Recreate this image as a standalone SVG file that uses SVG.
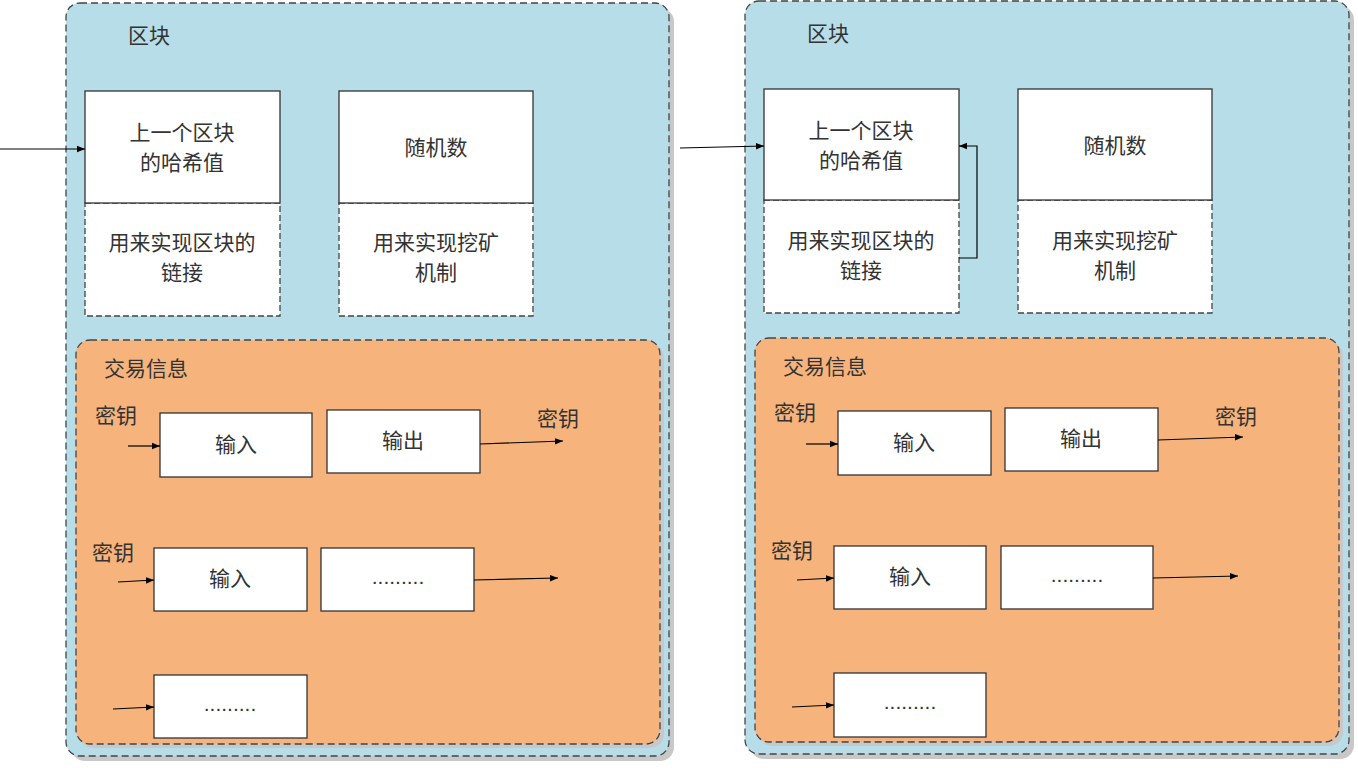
<svg xmlns="http://www.w3.org/2000/svg" width="1358" height="768" viewBox="0 0 1358 768">
<defs>
<marker id="ah" viewBox="0 0 10 10" refX="10" refY="5" markerWidth="8" markerHeight="8" markerUnits="userSpaceOnUse" orient="auto"><path d="M0,1 L10,5 L0,9 z" fill="#000"/></marker>
<style>
.blk{fill:#b7dde8;stroke:#444;stroke-width:1.3;stroke-dasharray:7,4}
.sh{fill:#c8c8c8}
.tx{fill:#f6b47c;stroke:#444;stroke-width:1.3;stroke-dasharray:7,4}
.bx{fill:#fff;stroke:#333;stroke-width:1.3}
.dbx{fill:#fff;stroke:#444;stroke-width:1.3;stroke-dasharray:6,3}
text{font-family:"Liberation Sans","Noto Sans CJK SC",sans-serif;font-size:21px;fill:#333}
.c{text-anchor:middle}
.ln{stroke:#000;stroke-width:1.2;fill:none;marker-end:url(#ah)}
</style>
</defs>
<g id="block1">
<rect class="sh" x="71" y="8" width="603" height="753" rx="14"/>
<rect class="blk" x="66" y="3" width="603" height="753" rx="14"/>
<text x="128" y="43">区块</text>
</g>
<g id="prevhash1">
<rect class="dbx" x="85" y="203" width="195" height="113"/>
<rect class="bx" x="85" y="91" width="195" height="112"/>
<text class="c" x="182" y="140">上一个区块</text>
<text class="c" x="182" y="170">的哈希值</text>
<text class="c" x="182" y="250">用来实现区块的</text>
<text class="c" x="182" y="280">链接</text>
</g>
<g id="nonce1">
<rect class="dbx" x="339" y="203" width="194" height="113"/>
<rect class="bx" x="339" y="91" width="194" height="112"/>
<text class="c" x="436" y="155">随机数</text>
<text class="c" x="436" y="250">用来实现挖矿</text>
<text class="c" x="436" y="280">机制</text>
</g>
<g id="tx1">
<rect class="sh" x="80" y="344" width="584" height="404" rx="14"/>
<rect class="tx" x="76" y="340" width="584" height="404" rx="14"/>
<text x="104" y="376">交易信息</text>
<text x="95" y="423">密钥</text>
<text x="537" y="426">密钥</text>
<text x="92" y="560">密钥</text>
</g>
<g id="in1a"><rect class="bx" x="160" y="413" width="152" height="64"/><text class="c" x="236" y="452">输入</text></g>
<g id="out1a"><rect class="bx" x="327" y="410" width="153" height="63"/><text class="c" x="403" y="448">输出</text></g>
<g id="in1b"><rect class="bx" x="154" y="548" width="153" height="63"/><text class="c" x="230" y="586">输入</text></g>
<g id="dots1b"><rect class="bx" x="321" y="548" width="153" height="63"/><text class="c" x="398" y="584">.........</text></g>
<g id="dots1c"><rect class="bx" x="154" y="675" width="153" height="63"/><text class="c" x="230" y="711">.........</text></g>

<g id="block2">
<rect class="sh" x="750" y="6" width="604" height="753" rx="14"/>
<rect class="blk" x="745" y="1" width="604" height="753" rx="14"/>
<text x="807" y="41">区块</text>
</g>
<g id="prevhash2">
<rect class="dbx" x="764" y="200" width="195" height="113"/>
<rect class="bx" x="764" y="89" width="195" height="111"/>
<text class="c" x="861" y="138">上一个区块</text>
<text class="c" x="861" y="168">的哈希值</text>
<text class="c" x="861" y="248">用来实现区块的</text>
<text class="c" x="861" y="278">链接</text>
</g>
<g id="nonce2">
<rect class="dbx" x="1018" y="200" width="194" height="113"/>
<rect class="bx" x="1018" y="89" width="194" height="111"/>
<text class="c" x="1115" y="153">随机数</text>
<text class="c" x="1115" y="248">用来实现挖矿</text>
<text class="c" x="1115" y="278">机制</text>
</g>
<g id="tx2">
<rect class="sh" x="759" y="342" width="584" height="404" rx="14"/>
<rect class="tx" x="755" y="338" width="584" height="404" rx="14"/>
<text x="783" y="374">交易信息</text>
<text x="774" y="420">密钥</text>
<text x="1215" y="424">密钥</text>
<text x="771" y="558">密钥</text>
</g>
<g id="in2a"><rect class="bx" x="838" y="411" width="153" height="64"/><text class="c" x="914" y="450">输入</text></g>
<g id="out2a"><rect class="bx" x="1005" y="408" width="153" height="63"/><text class="c" x="1081" y="446">输出</text></g>
<g id="in2b"><rect class="bx" x="834" y="546" width="152" height="63"/><text class="c" x="910" y="584">输入</text></g>
<g id="dots2b"><rect class="bx" x="1001" y="546" width="152" height="63"/><text class="c" x="1077" y="582">.........</text></g>
<g id="dots2c"><rect class="bx" x="834" y="673" width="152" height="64"/><text class="c" x="910" y="709">.........</text></g>

<g id="connectors">
<line class="ln" x1="0" y1="149" x2="85" y2="149"/>
<line class="ln" x1="680" y1="148" x2="764" y2="146"/>
<path class="ln" d="M959,258 H977 V146 H959"/>
<line class="ln" x1="128" y1="446" x2="160" y2="446"/>
<line class="ln" x1="480" y1="444" x2="563" y2="441"/>
<line class="ln" x1="118" y1="582" x2="154" y2="580"/>
<line class="ln" x1="474" y1="580" x2="558" y2="578"/>
<line class="ln" x1="113" y1="709" x2="154" y2="707"/>
<line class="ln" x1="806" y1="444" x2="838" y2="444"/>
<line class="ln" x1="1158" y1="440" x2="1243" y2="437"/>
<line class="ln" x1="797" y1="580" x2="834" y2="578"/>
<line class="ln" x1="1153" y1="578" x2="1238" y2="576"/>
<line class="ln" x1="792" y1="707" x2="834" y2="705"/>
</g>
</svg>
